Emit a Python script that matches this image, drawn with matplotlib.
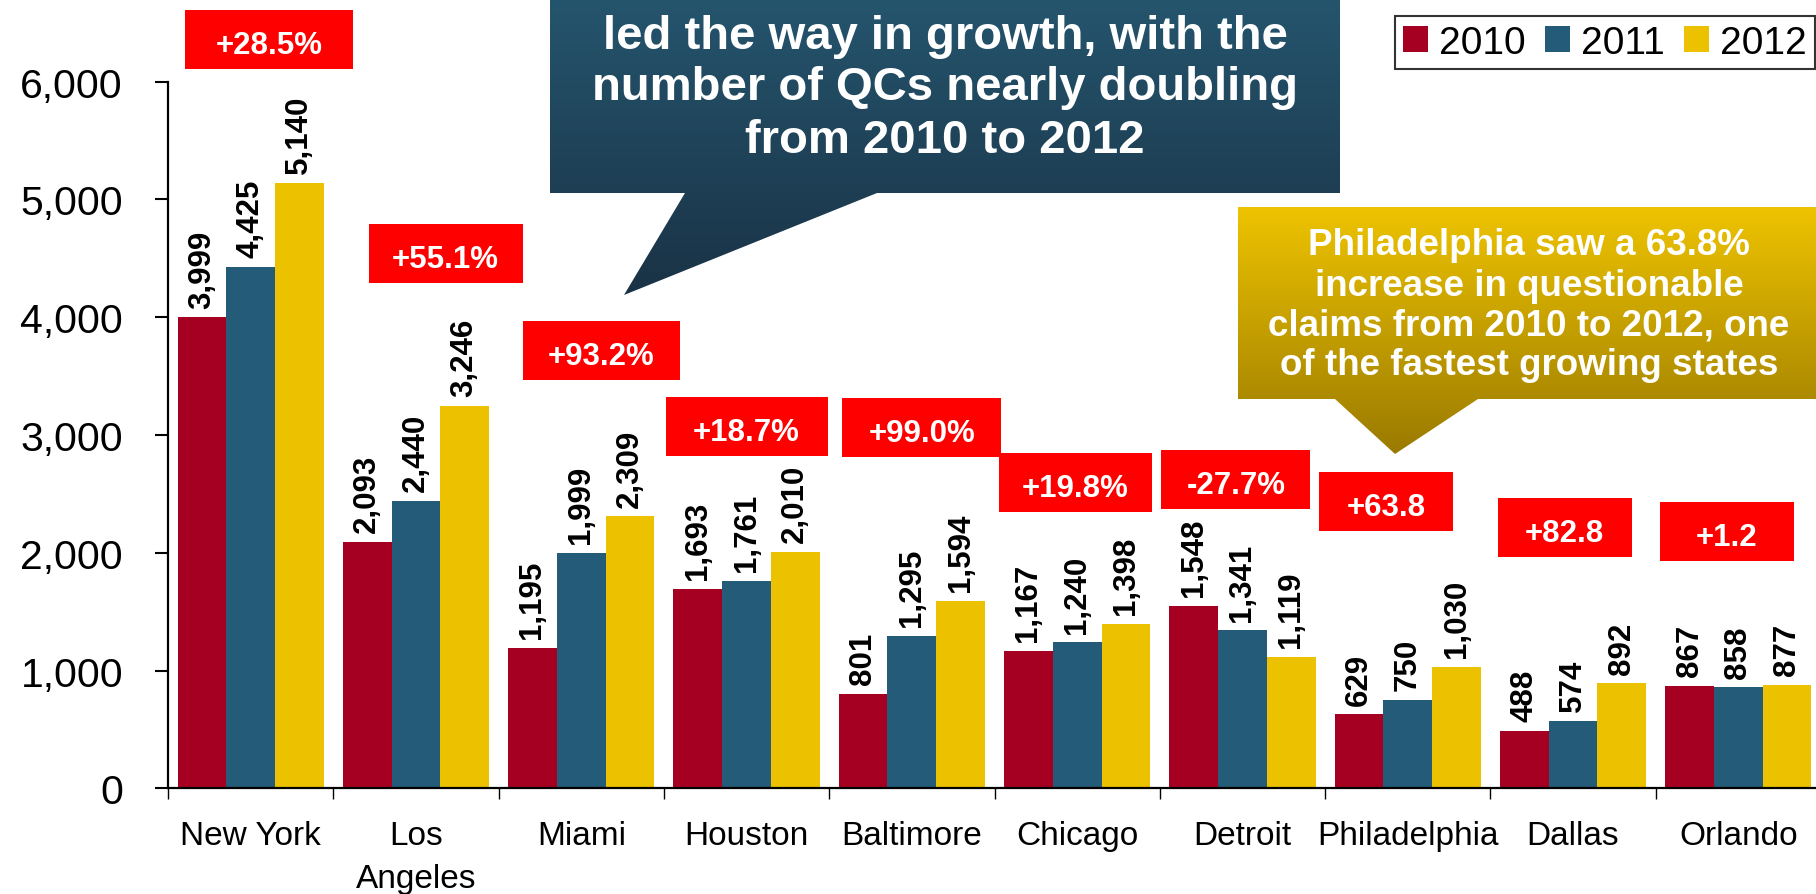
import numpy as np
import matplotlib.pyplot as plt
from matplotlib.patches import Patch, Rectangle, Polygon
from matplotlib.colors import LinearSegmentedColormap

plt.rcParams['font.family'] = ['Liberation Sans', 'DejaVu Sans']

cities = ['New York', 'Los\nAngeles', 'Miami', 'Houston', 'Baltimore',
          'Chicago', 'Detroit', 'Philadelphia', 'Dallas', 'Orlando']
years = ['2010', '2011', '2012']
qc_2010 = [3999, 2093, 1195, 1693, 801, 1167, 1548, 629, 488, 867]
qc_2011 = [4425, 2440, 1999, 1761, 1295, 1240, 1341, 750, 574, 858]
qc_2012 = [5140, 3246, 2309, 2010, 1594, 1398, 1119, 1030, 892, 877]
growth = ['+28.5%', '+55.1%', '+93.2%', '+18.7%', '+99.0%',
          '+19.8%', '-27.7%', '+63.8', '+82.8', '+1.2']

colors = ['#a50021', '#245b78', '#ecc100']

# red growth badges: centre x (category units), centre y (QC units), width
badge_x = [0.11, 1.18, 2.12, 3.0, 4.06, 4.99, 5.96, 6.87, 7.95, 8.93]
badge_y = [6358, 4542, 3719, 3074, 3065, 2598, 2622, 2437, 2216, 2182]
badge_w = [1.02, 0.93, 0.95, 0.98, 0.96, 0.92, 0.90, 0.81, 0.81, 0.81]
badge_h = 500

W, H = 1816, 895
fig = plt.figure(figsize=(W / 100, H / 100), dpi=100)
ax = fig.add_axes([168 / W, 105.7 / H, 1653 / W, 706.6 / H])

x = np.arange(len(cities))
bw = 0.295
containers = []
for k, (vals, yr, c) in enumerate(zip([qc_2010, qc_2011, qc_2012], years, colors)):
    pos = x + (k - 1) * bw
    containers.append(ax.bar(pos, vals, bw, color=c, label=yr, zorder=2))
    for xi, v in zip(pos, vals):
        ax.annotate(f'{v:,}', (xi, v), xytext=(0, 7), textcoords='offset points',
                    rotation=90, ha='center', va='bottom', fontsize=22.5,
                    fontweight='bold', zorder=3)

for bx, by, wd, txt in zip(badge_x, badge_y, badge_w, growth):
    ax.add_patch(Rectangle((bx - wd / 2, by - badge_h / 2), wd, badge_h,
                           facecolor='#ff0000', edgecolor='none', clip_on=False, zorder=5))
    ax.text(bx, by - 15, txt, color='white', fontsize=22.5, fontweight='bold',
            ha='center', va='center_baseline', clip_on=False, zorder=6)

ax.set_xlim(-0.5, len(cities) - 0.5)
ax.set_ylim(0, 6000)
ax.set_yticks(range(0, 6001, 1000))
ax.set_yticklabels([f'{v:,}' for v in range(0, 6001, 1000)])
ax.tick_params(axis='y', labelsize=29.5, length=9.4, width=1.5, pad=23)

# boundary ticks between cities, names on minor ticks at the centres
ax.set_xticks(np.arange(-0.5, len(cities), 1.0))
ax.set_xticklabels([])
ax.set_xticks(x, minor=True)
ax.set_xticklabels(cities, minor=True)
ax.tick_params(axis='x', which='major', length=8, width=1.0)
ax.tick_params(axis='x', which='minor', length=0, labelsize=24, pad=23)
for lab in ax.get_xticklabels(minor=True):
    lab.set_linespacing(1.5)

for side in ['top', 'right']:
    ax.spines[side].set_visible(False)
for side in ['left', 'bottom']:
    ax.spines[side].set_linewidth(1.6)

leg = fig.legend(handles=containers, loc='upper right',
                 bbox_to_anchor=(1815 / W, 1 - 17 / H), ncol=3, fontsize=28,
                 frameon=True, fancybox=False, edgecolor='black',
                 handlelength=0.64, handleheight=0.64, handletextpad=0.28,
                 columnspacing=0.5, borderpad=0.22, borderaxespad=0)
leg.get_frame().set_linewidth(1.5)

# speech-bubble callouts drawn in pixel space on a transparent overlay
ov = fig.add_axes([0, 0, 1, 1], zorder=10)
ov.patch.set_visible(False)
ov.set_axis_off()


def callout(pts, top_color, bottom_color):
    poly = Polygon(pts, closed=True, facecolor='none', edgecolor='none')
    ov.add_patch(poly)
    cmap = LinearSegmentedColormap.from_list('grad', [top_color, bottom_color])
    grad = np.linspace(0, 1, 256).reshape(-1, 1)
    xs = [p[0] for p in pts]
    ys = [p[1] for p in pts]
    im = ov.imshow(grad, cmap=cmap, extent=(min(xs), max(xs), max(ys), min(ys)),
                   aspect='auto', interpolation='bilinear', origin='upper')
    im.set_clip_path(poly)


callout([(550, -10), (1340, -10), (1340, 194), (877, 194), (624, 296),
         (685, 194), (550, 194)], '#25566f', '#1a3245')
callout([(1238, 208), (1830, 208), (1830, 400), (1478, 400), (1395, 455),
         (1335, 400), (1238, 400)], '#eec300', '#9a7a00')

ov.set_xlim(0, W)
ov.set_ylim(H, 0)

blue_lines = ['led the way in growth, with the',
              'number of QCs nearly doubling',
              'from 2010 to 2012']
for txt, yb in zip(blue_lines, [49, 100, 153]):
    ov.text(945, yb, txt, color='white', fontsize=34, fontweight='bold',
            ha='center', va='baseline')

gold_lines = ['Philadelphia saw a 63.8%',
              'increase in questionable',
              'claims from 2010 to 2012, one',
              'of the fastest growing states']
for txt, yb in zip(gold_lines, [255, 295.5, 335.5, 375]):
    ov.text(1529, yb, txt, color='white', fontsize=26.5, fontweight='bold',
            ha='center', va='baseline')

fig.savefig('out.png', dpi=100)
